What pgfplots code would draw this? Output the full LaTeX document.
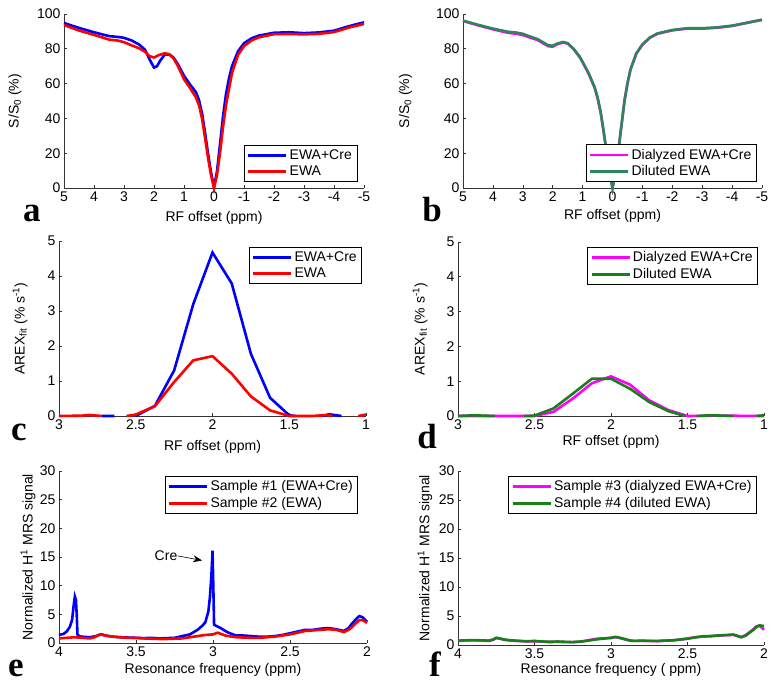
\documentclass[border=0pt]{standalone}
\usepackage{fontspec}
\setmainfont{Liberation Sans}
\newfontfamily\seriffont{Liberation Serif}
\usepackage{pgfplots}
\pgfplotsset{compat=1.18}
\usetikzlibrary{arrows.meta}
\newcommand\fs{\fontsize{14}{15.5}\selectfont}
\definecolor{mblue}{rgb}{0,0,1}
\definecolor{mred}{rgb}{1,0,0}
\definecolor{mmag}{rgb}{1,0,1}
\definecolor{mteal}{rgb}{0.18,0.52,0.36}
\definecolor{mgreen}{rgb}{0.1,0.5,0.1}
\pgfplotsset{
 panel/.style={scale only axis, anchor=south west,
  axis x line*=bottom, axis y line*=left,
  axis line style={-, line width=0.6pt, black!80},
  tick align=inside, major tick length=3pt,
  tick style={black!80, line width=0.6pt},
  x dir=reverse, clip=false,
  tick label style={font=\fs}, label style={font=\fs},
  /pgf/number format/assume math mode=true,
  legend style={font=\fs, draw=black, line width=0.6pt, fill=white,
   inner xsep=3pt, inner ysep=2.5pt, row sep=1pt, cells={anchor=west}},
  legend image code/.code={\draw[##1] (0pt,0pt) -- (38pt,0pt);},
  every axis plot/.append style={line width=2.6pt},
  unbounded coords=jump}
}
\newcommand\letter[3]{\node[anchor=base, font=\seriffont\bfseries\fontsize{35}{35}\selectfont, inner sep=0pt] at (#1pt,#2pt) {#3};}
\begin{document}
\begin{tikzpicture}
\useasboundingbox (0pt,0pt) rectangle (779pt,690pt);
% ---------------- a
\begin{axis}[panel, at={(64pt,502pt)}, width=300pt, height=174pt,
 xmin=-5, xmax=5, ymin=0, ymax=100, xtick={-5,-4,...,5}, ytick={0,20,...,100},
 xlabel={RF offset (ppm)}, ylabel={S/S\textsubscript{0} (\%)},
 xlabel style={at={(axis description cs:0.5,0)}, yshift=-30pt, anchor=center},
 ylabel style={at={(axis description cs:-0.163,0.5)}, anchor=center},
 legend style={at={(axis description cs:0.977,0.034)}, anchor=south east}]
\addplot[mblue] coordinates {(5,94.8) (4.5,92) (4,89.5) (3.5,87.3) (3.2,86.8) (3,86.3) (2.75,84.8) (2.5,82.5) (2.3,79.5) (2.15,74) (2.0,69.2) (1.9,70) (1.8,73) (1.65,76.5) (1.5,76.8) (1.35,75) (1.2,71) (1.0,64.5) (0.8,59.5) (0.6,55) (0.5,50.5) (0.4,43) (0.3,32) (0.2,20) (0.1,9) (0,0.5) (-0.1,9.5) (-0.2,25) (-0.3,41) (-0.4,54) (-0.5,63) (-0.6,70) (-0.8,78.5) (-1,83.2) (-1.25,86) (-1.5,87.6) (-2,89.2) (-2.5,89.5) (-3,89.0) (-3.5,89.4) (-4,90.4) (-4.5,93.0) (-5,95.2)};
\addlegendentry{EWA+Cre}
\addplot[mred] coordinates {(5,93.7) (4.5,90.5) (4,88) (3.5,85.3) (3.2,84.7) (3,83.8) (2.75,82) (2.5,80.3) (2.3,78.3) (2.15,75.8) (2.0,75) (1.85,76.3) (1.65,77.4) (1.5,77) (1.35,74.5) (1.2,70) (1.0,62.5) (0.8,57.5) (0.6,52) (0.5,47.5) (0.4,40) (0.3,29) (0.2,17.5) (0.1,7.5) (0,0) (-0.1,7.5) (-0.2,20) (-0.3,35) (-0.4,47.5) (-0.5,57) (-0.6,66) (-0.8,76.5) (-1,81.5) (-1.25,84.8) (-1.5,86.6) (-2,88.4) (-2.5,88.5) (-3,88.3) (-3.5,88.6) (-4,89.6) (-4.5,92.2) (-5,94.3)};
\addlegendentry{EWA}
\end{axis}
% ---------------- b
\begin{axis}[panel, at={(463pt,502pt)}, width=299pt, height=174pt,
 xmin=-5, xmax=5, ymin=0, ymax=100, xtick={-5,-4,...,5}, ytick={0,20,...,100},
 xlabel={RF offset (ppm)}, ylabel={S/S\textsubscript{0} (\%)},
 xlabel style={at={(axis description cs:0.5,0)}, yshift=-28pt, anchor=center},
 ylabel style={at={(axis description cs:-0.192,0.5)}, anchor=center},
 legend style={at={(axis description cs:0.982,0.034)}, anchor=south east}]
\addplot[mmag] coordinates {(5,96) (4.5,93.5) (4,91.2) (3.5,89.2) (3.2,88.6) (3,87.9) (2.75,86.4) (2.5,85) (2.3,83) (2.15,81.5) (2.0,81.2) (1.85,82.6) (1.65,83.6) (1.5,83) (1.3,79.8) (1.1,75.3) (1.0,72.3) (0.8,65.8) (0.6,57.8) (0.5,51.8) (0.4,43.8) (0.3,32.8) (0.2,20.8) (0.1,9) (0,0) (-0.1,9) (-0.2,22) (-0.3,36) (-0.4,50) (-0.5,60) (-0.6,68) (-0.8,77.3) (-1,82.3) (-1.25,86.3) (-1.5,88.6) (-2,90.6) (-2.5,91.6) (-3,91.6) (-3.5,92.1) (-4,93.1) (-4.5,94.9) (-5,96.6)};
\addlegendentry{Dialyzed EWA+Cre}
\addplot[mteal] coordinates {(5,96.2) (4.5,93.8) (4,91.6) (3.5,89.8) (3.2,89.3) (3,88.6) (2.75,87) (2.5,85.5) (2.3,83.5) (2.15,82) (2.0,81.8) (1.85,83) (1.65,83.9) (1.5,83.2) (1.3,80) (1.1,75.5) (1.0,72.5) (0.8,66) (0.6,58) (0.5,52) (0.4,44) (0.3,33) (0.2,21) (0.1,9) (0,0) (-0.1,9) (-0.2,22) (-0.3,36) (-0.4,50) (-0.5,60) (-0.6,68) (-0.8,77.5) (-1,82.5) (-1.25,86.5) (-1.5,88.8) (-2,90.8) (-2.5,91.8) (-3,91.8) (-3.5,92.3) (-4,93.3) (-4.5,95) (-5,96.7)};
\addlegendentry{Diluted EWA}
\end{axis}
% ---------------- c
\begin{axis}[panel, at={(59pt,274pt)}, width=307pt, height=175pt,
 xmin=1, xmax=3, ymin=0, ymax=5, xtick={1,1.5,2,2.5,3}, ytick={0,1,...,5},
 xlabel={RF offset (ppm)}, ylabel={AREX\textsubscript{fit} (\% s\textsuperscript{-1})},
 xlabel style={at={(axis description cs:0.5,0)}, yshift=-31pt, anchor=center},
 ylabel style={at={(axis description cs:-0.127,0.5)}, anchor=center},
 legend style={at={(axis description cs:0.987,0.966)}, anchor=north east}]
\addplot[mblue] coordinates {(2.72,0) (2.64,0) (2.6,nan) (2.5,0) (2.375,0.29) (2.25,1.3) (2.125,3.2) (2.0,4.67) (1.875,3.79) (1.75,1.78) (1.625,0.52) (1.5,0.02) (1.46,0) (1.4,nan) (1.28,0) (1.24,0.05) (1.16,0)};
\addlegendentry{EWA+Cre}
\addplot[mred] coordinates {(3,0) (2.85,0.01) (2.8,0.03) (2.75,0.01) (2.72,0) (2.65,nan) (2.56,0) (2.5,0.04) (2.375,0.28) (2.25,0.97) (2.125,1.59) (2.0,1.71) (1.875,1.21) (1.75,0.56) (1.625,0.16) (1.5,0) (1.35,0) (1.25,0.03) (1.22,0) (1.1,nan) (1.05,0) (1.0,0.04)};
\addlegendentry{EWA}
\end{axis}
% ---------------- d
\begin{axis}[panel, at={(458pt,274pt)}, width=306pt, height=174pt,
 xmin=1, xmax=3, ymin=0, ymax=5, xtick={1,1.5,2,2.5,3}, ytick={0,1,...,5},
 xlabel={RF offset (ppm)}, ylabel={AREX\textsubscript{fit} (\% s\textsuperscript{-1})},
 xlabel style={at={(axis description cs:0.5,0)}, yshift=-26pt, anchor=center},
 ylabel style={at={(axis description cs:-0.124,0.5)}, anchor=center},
 legend style={at={(axis description cs:0.98,0.971)}, anchor=north east}]
\addplot[mmag] coordinates {(3,0) (2.5,0) (2.375,0.12) (2.25,0.5) (2.125,0.94) (2.0,1.14) (1.875,0.9) (1.75,0.45) (1.625,0.17) (1.5,0) (1.3,0.01) (1,0)};
\addlegendentry{Dialyzed EWA+Cre}
\addplot[mgreen] coordinates {(3,0) (2.9,0.02) (2.76,0) (2.7,nan) (2.57,0) (2.5,0.01) (2.375,0.22) (2.25,0.64) (2.125,1.07) (2.0,1.07) (1.875,0.78) (1.75,0.4) (1.625,0.14) (1.52,0) (1.48,nan) (1.44,0) (1.35,0.02) (1.2,0) (1.1,nan) (1.05,0) (1.0,0.02)};
\addlegendentry{Diluted EWA}
\end{axis}
% ---------------- e
\begin{axis}[panel, at={(59pt,47pt)}, width=308pt, height=172pt,
 xmin=2, xmax=4, ymin=0, ymax=30, xtick={2,2.5,3,3.5,4}, ytick={0,5,...,30},
 xlabel={Resonance frequency (ppm)}, ylabel={Normalized H\textsuperscript{1} MRS signal},
 xlabel style={at={(axis description cs:0.5,0)}, yshift=-27pt, anchor=center},
 ylabel style={at={(axis description cs:-0.1,0.5)}, anchor=center},
 legend style={at={(axis description cs:0.971,0.971)}, anchor=north east}]
\addplot[mblue] coordinates {(4.00,1.4) (3.97,1.6) (3.95,2.0) (3.93,2.8) (3.915,4.0) (3.905,6.5) (3.897,8.1) (3.890,7.5) (3.885,5.0) (3.880,1.5) (3.87,1.2) (3.85,1.1) (3.80,1.0) (3.76,1.2) (3.73,1.5) (3.70,1.3) (3.65,1.1) (3.60,1.0) (3.55,0.95) (3.50,0.9) (3.45,0.85) (3.40,0.9) (3.35,0.8) (3.30,0.85) (3.25,0.9) (3.20,1.2) (3.15,1.5) (3.10,2.3) (3.07,3.0) (3.05,3.6) (3.03,5.5) (3.02,8.0) (3.01,12.0) (3.003,16.1) (2.998,10) (2.993,3.2) (2.98,3.0) (2.95,2.6) (2.92,2.1) (2.90,1.8) (2.87,1.5) (2.85,1.3) (2.80,1.3) (2.75,1.2) (2.70,1.1) (2.65,1.1) (2.60,1.2) (2.55,1.4) (2.50,1.7) (2.45,2.0) (2.40,2.3) (2.35,2.3) (2.30,2.5) (2.25,2.6) (2.20,2.4) (2.15,2.1) (2.12,2.6) (2.10,3.3) (2.07,4.2) (2.05,4.7) (2.03,4.5) (2.01,4.0) (2.00,3.7)};
\addlegendentry{Sample \#1 (EWA+Cre)}
\addplot[mred] coordinates {(4.00,0.8) (3.95,0.9) (3.90,1.0) (3.85,0.9) (3.80,0.8) (3.77,1.0) (3.74,1.4) (3.72,1.5) (3.70,1.3) (3.65,1.1) (3.60,1.0) (3.55,0.9) (3.50,0.9) (3.45,0.8) (3.40,0.75) (3.35,0.7) (3.30,0.7) (3.25,0.75) (3.20,0.8) (3.15,1.0) (3.10,1.2) (3.05,1.4) (3.00,1.5) (2.97,1.8) (2.95,1.6) (2.92,1.3) (2.90,1.2) (2.85,1.0) (2.80,0.95) (2.75,0.9) (2.70,0.9) (2.65,1.0) (2.60,1.1) (2.55,1.3) (2.50,1.5) (2.45,1.8) (2.40,2.1) (2.35,2.2) (2.30,2.3) (2.25,2.4) (2.20,2.3) (2.15,1.9) (2.12,2.3) (2.10,2.7) (2.07,3.5) (2.05,4.0) (2.03,4.0) (2.01,3.7) (2.00,3.5)};
\addlegendentry{Sample \#2 (EWA)}
\node[font=\fs] at (axis cs:3.305,15.2) {Cre};
\draw[-{Stealth[length=9pt,width=7pt]}, line width=0.6pt] (axis cs:3.23,15.2) -- (axis cs:3.071,14.4);
\end{axis}
% ---------------- f
\begin{axis}[panel, at={(458pt,45pt)}, width=306pt, height=174pt,
 xmin=2, xmax=4, ymin=0, ymax=30, xtick={2,2.5,3,3.5,4}, ytick={0,5,...,30},
 xlabel={Resonance frequency ( ppm)}, ylabel={Normalized H\textsuperscript{1} MRS signal},
 xlabel style={at={(axis description cs:0.5,0)}, yshift=-25pt, anchor=center},
 ylabel style={at={(axis description cs:-0.108,0.5)}, anchor=center},
 legend style={at={(axis description cs:0.977,0.971)}, anchor=north east}]
\addplot[mmag] coordinates {(4.00,0.7) (3.95,0.8) (3.90,0.8) (3.85,0.8) (3.80,0.7) (3.77,0.9) (3.75,1.2) (3.72,1.05) (3.70,0.9) (3.65,0.75) (3.60,0.7) (3.55,0.6) (3.50,0.65) (3.45,0.6) (3.40,0.5) (3.35,0.55) (3.30,0.5) (3.25,0.5) (3.20,0.55) (3.15,0.8) (3.10,1.05) (3.05,1.15) (3.00,1.2) (2.97,1.35) (2.95,1.25) (2.92,1.05) (2.90,0.9) (2.87,0.75) (2.85,0.7) (2.80,0.7) (2.75,0.7) (2.70,0.65) (2.65,0.75) (2.60,0.8) (2.55,0.9) (2.50,1.1) (2.45,1.35) (2.40,1.45) (2.35,1.5) (2.30,1.6) (2.25,1.7) (2.20,1.75) (2.17,1.5) (2.15,1.35) (2.12,1.7) (2.10,2.1) (2.07,2.7) (2.05,3.2) (2.03,3.3) (2.01,2.9) (2.00,2.6)};
\addlegendentry{Sample \#3 (dialyzed EWA+Cre)}
\addplot[mgreen] coordinates {(4.00,0.75) (3.95,0.8) (3.90,0.85) (3.85,0.8) (3.80,0.75) (3.77,0.95) (3.75,1.25) (3.72,1.1) (3.70,0.95) (3.65,0.8) (3.60,0.7) (3.55,0.65) (3.50,0.7) (3.45,0.6) (3.40,0.55) (3.35,0.6) (3.30,0.55) (3.25,0.5) (3.20,0.6) (3.15,0.75) (3.10,0.95) (3.05,1.1) (3.00,1.25) (2.97,1.4) (2.95,1.3) (2.92,1.1) (2.90,0.95) (2.87,0.75) (2.85,0.7) (2.80,0.75) (2.75,0.7) (2.70,0.7) (2.65,0.75) (2.60,0.8) (2.55,0.95) (2.50,1.1) (2.45,1.3) (2.40,1.5) (2.35,1.55) (2.30,1.65) (2.25,1.7) (2.20,1.8) (2.17,1.55) (2.15,1.35) (2.12,1.6) (2.10,2.0) (2.07,2.6) (2.05,3.1) (2.03,3.4) (2.01,3.3) (2.00,3.3)};
\addlegendentry{Sample \#4 (diluted EWA)}
\end{axis}
% panel letters
\letter{32}{468}{a}
\letter{432}{468}{b}
\letter{19}{249}{c}
\letter{427}{241}{d}
\letter{16}{13}{e}
\letter{435}{13}{f}
\end{tikzpicture}
\end{document}
